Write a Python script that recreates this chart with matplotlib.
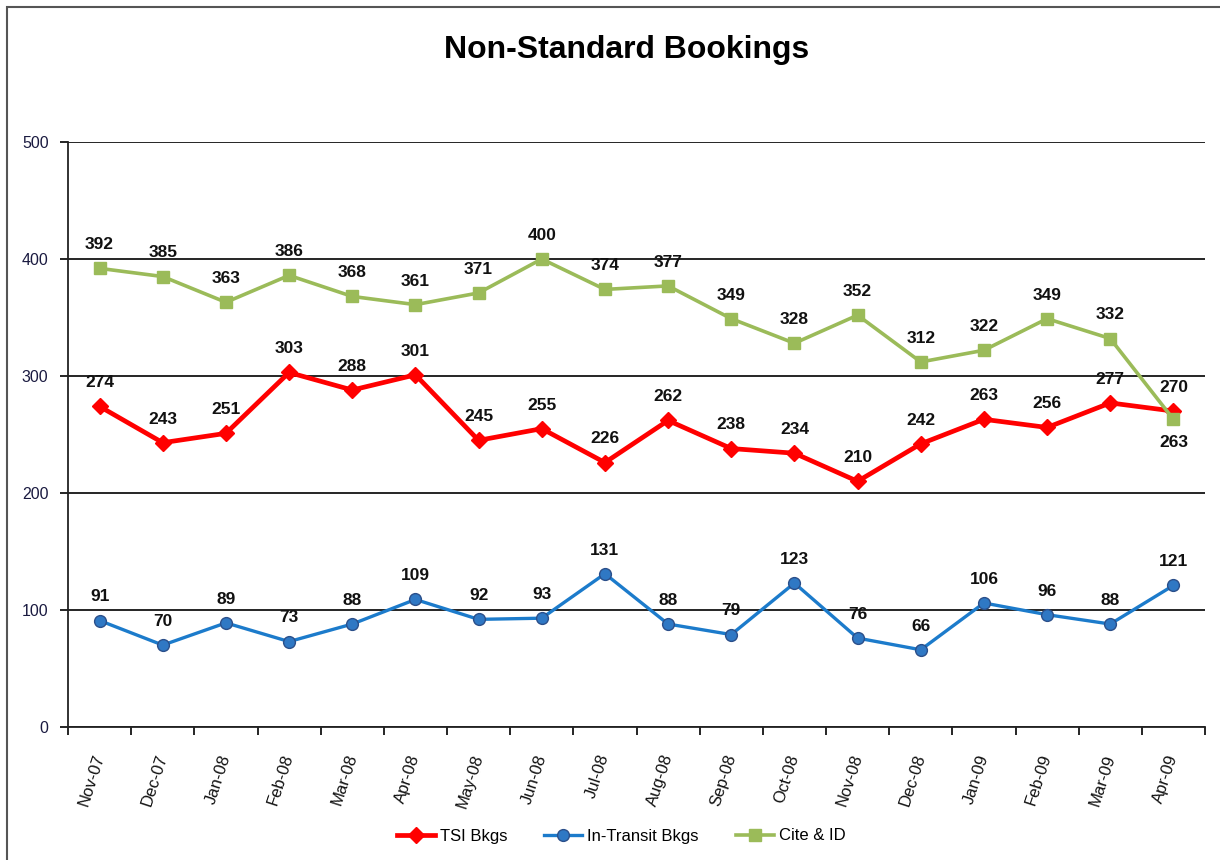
import matplotlib
matplotlib.use("Agg")
from matplotlib import pyplot as plt
from matplotlib.patches import Rectangle
import numpy as np

plt.rcParams['font.family'] = ['Liberation Sans', 'DejaVu Sans']

months = ["Nov-07", "Dec-07", "Jan-08", "Feb-08", "Mar-08", "Apr-08", "May-08",
          "Jun-08", "Jul-08", "Aug-08", "Sep-08", "Oct-08", "Nov-08", "Dec-08",
          "Jan-09", "Feb-09", "Mar-09", "Apr-09"]
tsi = [274, 243, 251, 303, 288, 301, 245, 255, 226, 262, 238, 234, 210, 242, 263, 256, 277, 270]
transit = [91, 70, 89, 73, 88, 109, 92, 93, 131, 88, 79, 123, 76, 66, 106, 96, 88, 121]
cite = [392, 385, 363, 386, 368, 361, 371, 400, 374, 377, 349, 328, 352, 312, 322, 349, 332, 263]

fig = plt.figure(figsize=(12.2, 8.6), dpi=100)
ax = fig.add_axes([68/1220, 1-727/860, (1205-68)/1220, (727-142)/860])

# outer chart frame (only top/left visible in the reference)
fig.patches.append(Rectangle((7/1220, -0.1), 1.2, 1.1 - 7/860, transform=fig.transFigure,
                             fill=False, edgecolor='#555555', linewidth=1.5))

x = np.arange(len(months))

ax.plot(x, tsi, color='#FF0000', lw=3.4, marker='D', ms=8, mfc='#FF0000', mec='#FF0000',
        label='TSI Bkgs', zorder=4)
ax.plot(x, transit, color='#1C7BCB', lw=2.4, marker='o', ms=8.5, mfc='#2F78C4', mec='#2B4F8A',
        mew=1, label='In-Transit Bkgs', zorder=4)
ax.plot(x, cite, color='#9BBB59', lw=2.6, marker='s', ms=9, mfc='#9BBB59', mec='#9BBB59',
        label='Cite & ID', zorder=5)

for series in (tsi, transit, cite):
    for i, v in enumerate(series):
        dy = 17
        if series is cite and i == len(series) - 1:
            dy = -17
        ax.annotate(str(v), (i, v), xytext=(0, dy), textcoords='offset points',
                    ha='center', va='center', fontsize=12.5, fontweight='bold', color='#111111',
                    zorder=6)

ax.set_xlim(-0.5, len(months) - 0.5)
ax.set_ylim(0, 500)
ax.set_yticks([0, 100, 200, 300, 400, 500])
ax.tick_params(axis='y', direction='out', length=6, width=1.2, labelsize=11.5,
               labelcolor='#1a1a40', pad=8)
ax.yaxis.grid(True, color='black', lw=1.2)
ax.set_axisbelow(True)

ax.set_xticks(x)
ax.set_xticklabels(months, rotation=72, ha='right', va='center', rotation_mode='anchor',
                   fontsize=12, color='#111111')
ax.set_xticks(np.arange(-0.5, len(months)), minor=True)
ax.tick_params(axis='x', which='major', length=0, pad=20)
ax.tick_params(axis='x', which='minor', direction='out', length=6, width=1.2)

for s in ('top', 'right'):
    ax.spines[s].set_visible(False)
for s in ('left', 'bottom'):
    ax.spines[s].set_color('#222222')
    ax.spines[s].set_linewidth(1.3)

fig.text(627/1220, 1-50/860, 'Non-Standard Bookings', ha='center', va='center',
         fontsize=23, fontweight='bold')

fig.legend(loc='center', bbox_to_anchor=(621/1220, 1-836/860), ncol=3, frameon=False,
           fontsize=12, handlelength=2.3, columnspacing=2.2, handletextpad=0.3)

fig.savefig('out.png', dpi=100, facecolor='white')
